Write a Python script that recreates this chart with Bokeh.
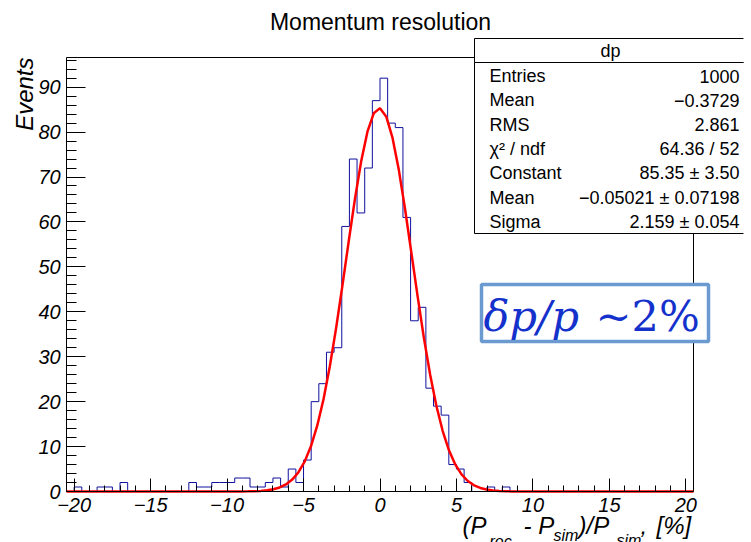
import numpy as np
from bokeh.plotting import figure
from bokeh.models import Range1d, FixedTicker, Label, BoxAnnotation, LinearAxis
from bokeh.embed import file_html
from bokeh.resources import INLINE

# ---------------- data ----------------
bin_low = -20.5
bin_width = 0.5
counts = [0, 1, 0, 0, 1, 1, 0, 2, 0, 0,
          0, 0, 0, 0, 0, 0, 2, 1, 1, 2,
          2, 2, 3, 3, 1, 1, 2, 3, 1, 5,
          2, 7, 20, 24, 31, 32, 59, 74, 62, 72,
          87, 92, 82, 81, 61, 38, 41, 23, 19, 17,
          6, 5, 2, 0, 0, 1, 0, 1, 0, 0,
          0, 0, 0, 0, 0, 0, 0, 0, 0, 0,
          0, 0, 0, 0, 0, 0, 0, 0, 0, 0,
          0, 0]
fit_constant = 85.35
fit_mean = -0.05021
fit_sigma = 2.159
x_ticks = [-20, -15, -10, -5, 0, 5, 10, 15, 20]
x_tick_labels = ["\u221220", "\u221215", "\u221210", "\u22125", "0", "5", "10", "15", "20"]
x_minor_ticks = list(range(-20, 21))
y_ticks = [0, 10, 20, 30, 40, 50, 60, 70, 80, 90]
y_tick_labels = ["\u20070", "10", "20", "30", "40", "50", "60", "70", "80", "90"]
y_minor_ticks = list(range(0, 97, 2))
stats_title = "dp"
stats_names = ["Entries", "Mean", "RMS", "\u03c7\u00b2 / ndf", "Constant", "Mean", "Sigma"]
stats_values = ["1000", "\u22120.3729", "2.861", "64.36 / 52", "85.35 \u00b1 3.50",
                "\u22120.05021 \u00b1 0.07198", "2.159 \u00b1 0.054"]

X_MIN, X_MAX = -20.5, 20.5
Y_MIN, Y_MAX = 0.0, 96.6

# ---------------- geometry (page pixels) ----------------
W, H = 751, 542
FL, FR, FT, FB = 66, 693, 57, 491          # histogram frame
PL, PR, PT, PB = 0, 743, 10, 542            # bokeh drawing area
SX = (FR - FL) / (X_MAX - X_MIN)
SY = (FB - FT) / (Y_MAX - Y_MIN)


def dx(px):
    return X_MIN + (px - FL) / SX


def dy(py):
    return Y_MIN + (FB - py) / SY


p = figure(width=W, height=H,
           x_range=Range1d(dx(PL), dx(PR)), y_range=Range1d(dy(PB), dy(PT)),
           x_axis_location=None, y_axis_location=None,
           output_backend="svg", toolbar_location=None,
           min_border_left=PL, min_border_right=W - PR,
           min_border_top=PT, min_border_bottom=H - PB)
p.background_fill_color = "white"
p.border_fill_color = "white"
p.outline_line_color = None
p.xgrid.visible = False
p.ygrid.visible = False

# histogram outline
edges = bin_low + bin_width * np.arange(len(counts) + 1)
hx = np.repeat(edges, 2)
hy = np.concatenate([[0], np.repeat(np.array(counts, dtype=float), 2), [0]])
p.line(hx, hy, line_color="#10109e", line_width=1)

# fit curve
fx = np.linspace(X_MIN, X_MAX, 101)
fy = fit_constant * np.exp(-0.5 * ((fx - fit_mean) / fit_sigma) ** 2)
p.line(fx, fy, line_color="#ff0000", line_width=2.5)

# top and right edges of the histogram frame
p.segment(x0=[X_MIN, X_MAX], y0=[Y_MAX, Y_MIN], x1=[X_MAX, X_MAX], y1=[Y_MAX, Y_MAX],
          line_color="black", line_width=1)

# x axis drawn at y = 0 (ticks pointing up, labels below)
xa = LinearAxis(fixed_location=0, bounds=(X_MIN, X_MAX))
xa.ticker = FixedTicker(ticks=x_ticks, minor_ticks=x_minor_ticks)
xa.major_label_overrides = {t: l for t, l in zip(x_ticks, x_tick_labels)}
xa.major_tick_out = 13
xa.major_tick_in = 0
xa.minor_tick_out = 6
xa.minor_tick_in = 0
xa.major_label_standoff = -33
p.add_layout(xa, "above")

# y axis drawn at x = X_MIN (ticks pointing right, labels left)
ya = LinearAxis(fixed_location=X_MIN, bounds=(Y_MIN, Y_MAX))
ya.ticker = FixedTicker(ticks=y_ticks, minor_ticks=y_minor_ticks)
ya.major_label_overrides = {t: l for t, l in zip(y_ticks, y_tick_labels)}
ya.major_tick_out = 19
ya.major_tick_in = 0
ya.minor_tick_out = 10
ya.minor_tick_in = 0
ya.major_label_standoff = -47
p.add_layout(ya, "right")

for ax in (xa, ya):
    ax.axis_line_color = "black"
    ax.major_tick_line_color = "black"
    ax.minor_tick_line_color = "black"
    ax.major_label_text_font = "Liberation Sans"
    ax.major_label_text_font_style = "italic"
    ax.major_label_text_font_size = "20px"
    ax.major_label_text_color = "black"


def label(px, py, text, size, align="left", style="normal",
          font="Liberation Sans", color="black", angle=0.0):
    p.add_layout(Label(x=dx(px), y=dy(py), text=text, text_font=font,
                       text_font_size=f"{size}px", text_font_style=style,
                       text_align=align, text_baseline="middle",
                       text_color=color, angle=angle))


# title
label(380, 21, "Momentum resolution", 23, align="center")

# y axis title
label(23.5, 57, "Events", 24, align="right", style="italic", angle=np.pi / 2)

# x axis title with subscripts
for t, px in [("(P", 462), ("- P", 523), (")/P", 578), (",", 640), ("[%]", 656)]:
    label(px, 524.5, t, 24, style="italic")
for t, px, py in [("rec", 489, 541), ("sim", 553, 535), ("sim", 616, 540)]:
    label(px, py, t, 16, style="italic")

# stats box
p.add_layout(BoxAnnotation(left=dx(474), right=dx(770), top=dy(38), bottom=dy(62),
                           fill_color="white", fill_alpha=1.0, line_color="black",
                           line_width=1, line_alpha=1.0))
p.add_layout(BoxAnnotation(left=dx(474), right=dx(770), top=dy(62), bottom=dy(233),
                           fill_color="white", fill_alpha=1.0, line_color="black",
                           line_width=1, line_alpha=1.0))
label(610, 50, stats_title, 18, align="center")
for i, (n, v) in enumerate(zip(stats_names, stats_values)):
    yy = 75.5 + i * 24.3
    label(489, yy, n, 18)
    label(739, yy, v, 18, align="right")

# resolution text box
p.add_layout(BoxAnnotation(left=dx(481), right=dx(708), top=dy(284), bottom=dy(341),
                           fill_color="white", fill_alpha=1.0, line_color="#6a9acf",
                           line_width=3.5, line_alpha=1.0))
label(483, 315, "\u03b4p/p", 43, style="italic", font="DejaVu Serif", color="#1431cc")
label(595, 315, "~2%", 43, font="DejaVu Serif", color="#1431cc")

open("out.html", "w").write(file_html(p, INLINE))
